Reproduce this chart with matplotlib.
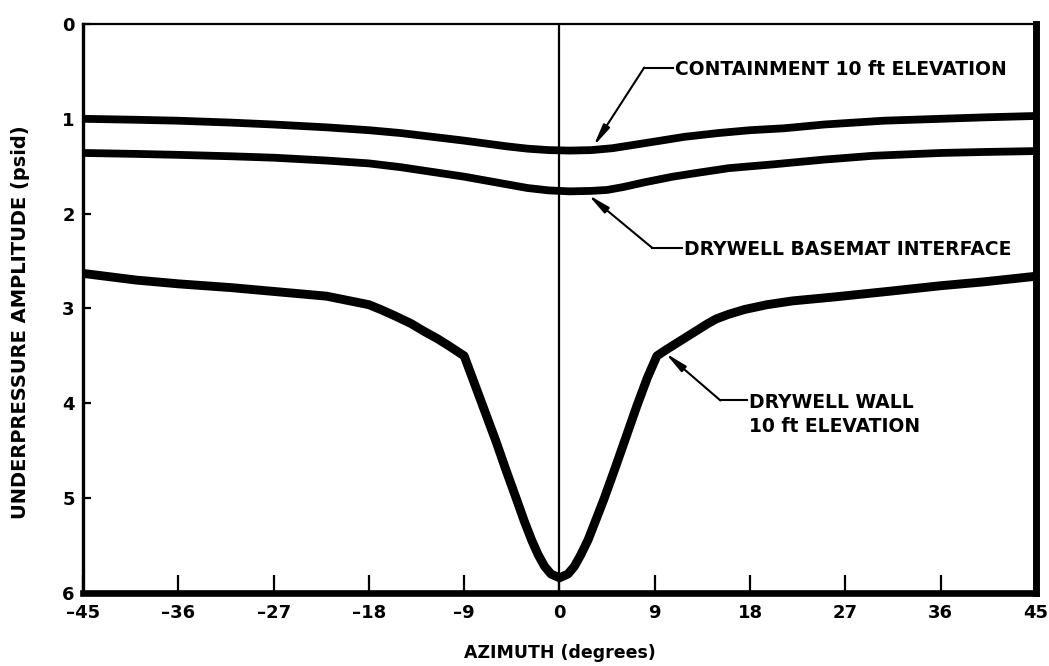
import matplotlib
matplotlib.use("Agg")
import matplotlib.pyplot as plt

# Azimuth (degrees) and underpressure amplitude (psid) for each location
containment_az = [-45, -40, -36, -31, -27, -22, -18, -15, -12, -9, -7, -5, -3, -1, 1, 3, 5, 7, 9, 11.8, 15, 18, 21.2, 25, 30.6, 36, 40, 45]
containment_p = [1.00, 1.01, 1.02, 1.04, 1.06, 1.09, 1.12, 1.15, 1.19, 1.23, 1.26, 1.29, 1.315, 1.33, 1.335, 1.33, 1.31, 1.275, 1.24, 1.19, 1.15, 1.12, 1.10, 1.06, 1.02, 1.00, 0.985, 0.97]

basemat_az = [-45, -40, -36, -31, -27, -22, -18, -15, -12, -9, -7, -5, -3, -1, 1, 3, 4.5, 6, 8, 10.7, 13, 16, 20.2, 25, 29.6, 36, 40, 45]
basemat_p = [1.36, 1.37, 1.38, 1.395, 1.41, 1.44, 1.47, 1.51, 1.56, 1.61, 1.65, 1.69, 1.73, 1.755, 1.765, 1.76, 1.75, 1.72, 1.67, 1.61, 1.57, 1.52, 1.48, 1.43, 1.39, 1.36, 1.35, 1.34]

wall_az = [-45, -40, -36, -31, -27, -22, -18, -16.9, -15.5, -14, -12.8, -11.5, -10.5, -9,
           -8, -7, -6, -5, -4, -3.3, -2.6, -2, -1.4, -0.8, 0,
           0.8, 1.4, 2, 2.7, 3.4, 4.2, 5.2, 6.3, 7.3, 8.3, 9.2,
           10, 11, 12, 13, 14, 14.8, 16, 17.5, 19.6, 22, 25.8, 31, 36, 40, 45]
wall_p = [2.63, 2.70, 2.74, 2.78, 2.82, 2.87, 2.96, 3.01, 3.08, 3.16, 3.24, 3.32, 3.39, 3.50,
          3.80, 4.10, 4.40, 4.72, 5.03, 5.25, 5.45, 5.60, 5.72, 5.80, 5.84,
          5.80, 5.72, 5.60, 5.44, 5.24, 5.01, 4.70, 4.35, 4.03, 3.73, 3.50,
          3.44, 3.37, 3.30, 3.23, 3.16, 3.11, 3.06, 3.01, 2.96, 2.92, 2.88, 2.82, 2.76, 2.72, 2.66]

x_ticks = [-45, -36, -27, -18, -9, 0, 9, 18, 27, 36, 45]
x_tick_labels = ["\u201345", "\u201336", "\u201327", "\u201318", "\u20139", "0", "9", "18", "27", "36", "45"]
y_ticks = [0, 1, 2, 3, 4, 5, 6]
y_tick_labels = ["0", "1", "2", "3", "4", "5", "6"]

plt.rcParams["font.family"] = ["DejaVu Sans"]
plt.rcParams["font.weight"] = "bold"

fig = plt.figure(figsize=(10.49, 6.66), dpi=100)
ax = fig.add_axes([0.0791, 0.1096, 0.9085, 0.8544])

line_kw = dict(color="black", solid_joinstyle="round", solid_capstyle="butt")
ax.plot(containment_az, containment_p, lw=5.6, **line_kw)
ax.plot(basemat_az, basemat_p, lw=5.6, **line_kw)
ax.plot(wall_az, wall_p, lw=6.4, **line_kw)

# zero-azimuth reference line
ax.axvline(0, color="black", lw=1.6)

ax.set_xlim(-45, 45)
ax.set_ylim(6, 0)

ax.set_xticks(x_ticks)
ax.set_xticklabels(x_tick_labels, fontsize=13, fontweight="bold")
ax.set_yticks(y_ticks)
ax.set_yticklabels(y_tick_labels, fontsize=13, fontweight="bold")
ax.tick_params(axis="x", direction="in", length=13, width=1.6, pad=8)
ax.tick_params(axis="y", direction="in", length=6, width=1.6, pad=6)

ax.spines["top"].set_linewidth(1.6)
ax.spines["left"].set_linewidth(2.4)
ax.spines["bottom"].set_linewidth(4.8)
ax.spines["right"].set_linewidth(5.0)

ax.set_xlabel("AZIMUTH (degrees)", fontsize=12.5, fontweight="bold", va="center")
ax.xaxis.set_label_coords(0.5005, -0.105)
ax.set_ylabel("UNDERPRESSURE AMPLITUDE (psid)", fontsize=14, fontweight="bold", va="center")
ax.yaxis.set_label_coords(-0.066, 0.476)

arrow = dict(arrowstyle="-|>,head_length=1.3,head_width=0.22", color="black", lw=1.5,
             shrinkA=0, shrinkB=0)


def callout(text, tip, elbow, text_x, text_dy=0.0):
    ax.annotate("", xy=tip, xytext=elbow, arrowprops=arrow)
    ax.plot([elbow[0], text_x - 0.2], [elbow[1], elbow[1]], color="black", lw=1.5)
    ax.text(text_x, elbow[1] + text_dy, text, fontsize=13.5, fontweight="bold", ha="left",
            va="center_baseline", linespacing=1.36)


callout("CONTAINMENT 10 ft ELEVATION", (3.2, 1.29), (8.0, 0.46), 10.9)
callout("DRYWELL BASEMAT INTERFACE", (2.7, 1.80), (8.75, 2.36), 11.8)
callout("DRYWELL WALL\n10 ft ELEVATION", (10.0, 3.47), (15.2, 3.97), 17.9, text_dy=0.1)

fig.savefig("out.png", dpi=100)
